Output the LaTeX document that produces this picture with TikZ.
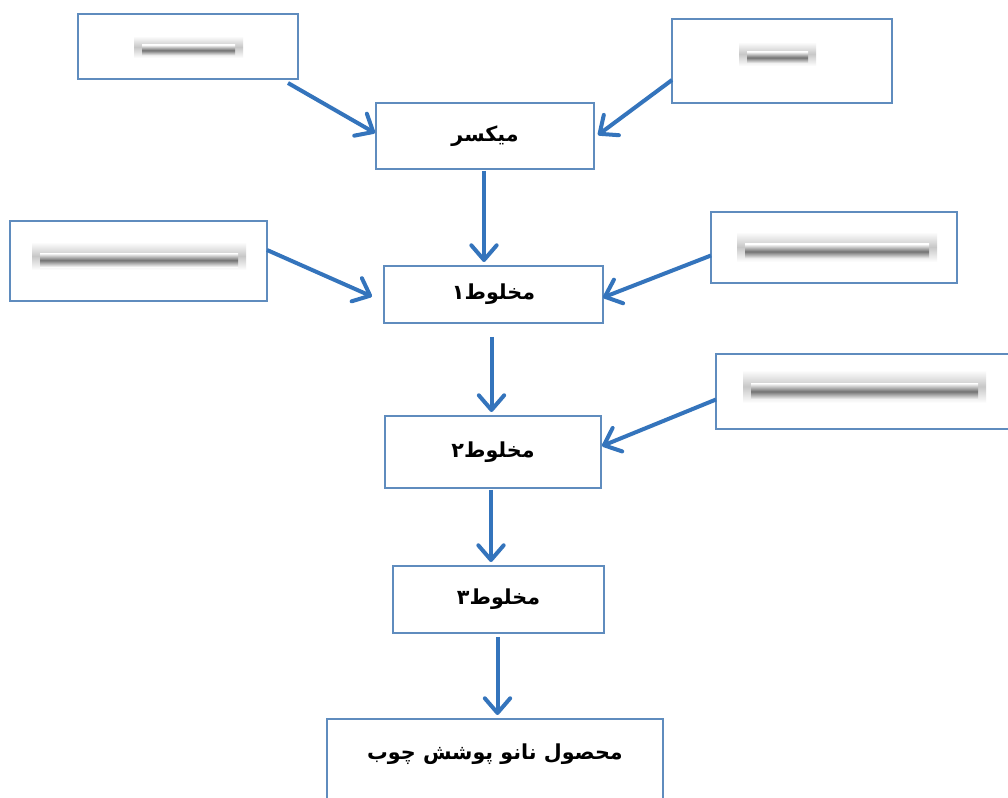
\documentclass[tikz,border=0pt]{standalone}
\usepackage{fontspec}
\usetikzlibrary{arrows.meta,calc}
\TeXXeTstate=1
\newfontfamily\arabicfont[Script=Arabic]{DejaVu Sans}
\newdimen\pxu \pxu=0.75pt
\definecolor{boxblue}{RGB}{95,140,190}
\definecolor{arrblue}{RGB}{52,116,188}
\newcommand\fatxt[1]{{\arabicfont\bfseries\beginR #1\endR}}
\newcommand\blurbar[4]{%
  \shade[top color=white, bottom color=white, middle color=black!22] (#1,#2) rectangle (#3,#4);
  \shade[top color=white, bottom color=white, middle color=black!55]
    ($(#1,#2)!0.4!(#1,#4)+(8,0)$) rectangle ($(#3,#4)!0.1!(#3,#2)+(-8,0)$);
}
\begin{document}
\begin{tikzpicture}[x=\pxu, y=-\pxu,
  box/.style={draw=boxblue, line width=1.1pt, fill=white, inner sep=0pt, outer sep=0pt,
    font=\fontsize{15.5}{18}\selectfont},
  flow/.style={draw=arrblue, line width=3pt,
    -{Straight Barb[length=11pt, width=19pt, line cap=round, line join=round]}}]
\clip (0,0) rectangle (1008,798);
\fill[white] (0,0) rectangle (1008,798);

% side boxes (blurred content)
\node[box, minimum width=220\pxu, minimum height=65\pxu] (tl) at (188,46.5) {};
\node[box, minimum width=220\pxu, minimum height=84\pxu] (tr) at (782,61) {};
\node[box, minimum width=257\pxu, minimum height=80\pxu] (l2) at (138.5,261) {};
\node[box, minimum width=246\pxu, minimum height=71\pxu] (r2) at (834,247.5) {};
\node[box, minimum width=299\pxu, minimum height=75\pxu] (r3) at (865.5,391.5) {};

\blurbar{134}{36}{243}{58}
\blurbar{739}{42}{816}{66}
\blurbar{32}{242}{246}{270}
\blurbar{737}{232}{937}{262}
\blurbar{743}{370}{986}{403}

% main chain
\node[box, minimum width=218\pxu, minimum height=66\pxu] (mixer) at (485,136) {\fatxt{میکسر}};
\node[box, minimum width=219\pxu, minimum height=57\pxu] (mix1) at (493.5,294.5) {\fatxt{مخلوط۱}};
\node[box, minimum width=216\pxu, minimum height=72\pxu] (mix2) at (493,452) {\fatxt{مخلوط۲}};
\node[box, minimum width=211\pxu, minimum height=67\pxu] (mix3) at (498.5,599.5) {\fatxt{مخلوط۳}};
\node[box, minimum width=336\pxu, anchor=north, inner ysep=0pt,
  text height=40\pxu, text depth=70\pxu] (prod) at (495,719) {\fatxt{محصول نانو پوشش چوب}};

% arrows
\draw[flow] ($(tl.south east)+(-10,4)$) -- ($(mixer.west)+(-1,-3)$);
\draw[flow] ($(tr.west)+(0,19)$) -- ($(mixer.east)+(4,-1)$);
\draw[flow] ($(mixer.south)+(-1,2)$) -- ($(mixer.south)+(-1,93)$);
\draw[flow] ($(l2.east)+(0,-11)$) -- ($(mix1.west)+(-12,2)$);
\draw[flow] ($(r2.west)+(0,8)$) -- ($(mix1.east)+(0,3)$);
\draw[flow] ($(mix1.south)+(-2,14)$) -- ($(mix1.south)+(-2,89)$);
\draw[flow] ($(r3.west)+(0,8)$) -- ($(mix2.east)+(1,-6)$);
\draw[flow] ($(mix2.south)+(-2,2)$) -- ($(mix2.south)+(-2,74)$);
\draw[flow] ($(mix3.south)+(-1,4)$) -- ($(mix3.south)+(-1,82)$);
\end{tikzpicture}
\end{document}
